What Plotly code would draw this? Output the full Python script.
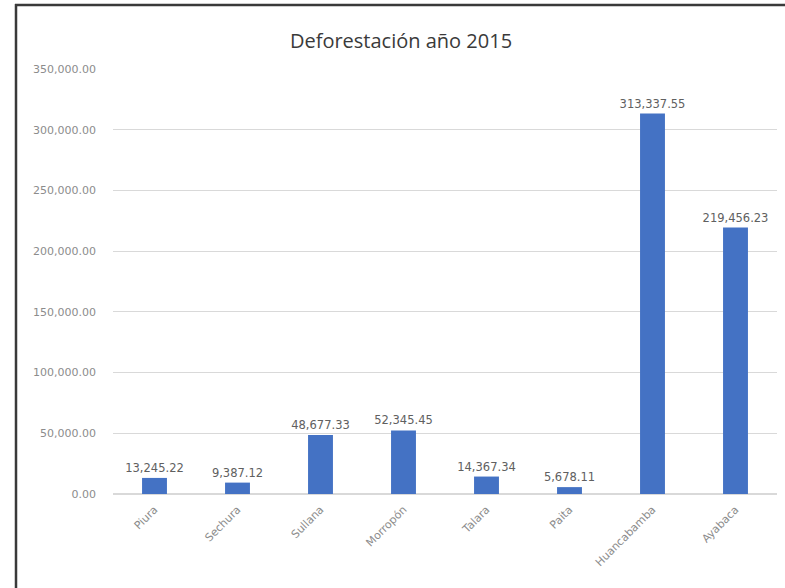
import plotly.graph_objects as go

provincias = ["Piura", "Sechura", "Sullana", "Morropón", "Talara", "Paita", "Huancabamba", "Ayabaca"]
deforestacion = [13245.22, 9387.12, 48677.33, 52345.45, 14367.34, 5678.11, 313337.55, 219456.23]
y_ticks = [0, 50000, 100000, 150000, 200000, 250000, 300000, 350000]

W, H = 785, 588
L, R, T, B = 113, 8, 69, 94
pw, ph = W - L - R, H - T - B

fig = go.Figure(go.Bar(
    x=provincias, y=deforestacion,
    marker=dict(color="#4472c4", line=dict(width=0)),
    width=0.3,
    text=[f"{v:,.2f}" for v in deforestacion],
    textposition="outside",
    constraintext="none",
    textfont=dict(family="DejaVu Sans", size=11.5, color="#606060"),
    cliponaxis=False,
))

def px_x(p):
    return (p - L) / pw

def px_y(p):
    return (H - B - p) / ph

border = "#3a3a3a"
fig.update_layout(
    width=W, height=H,
    margin=dict(l=L, r=R, t=T, b=B),
    paper_bgcolor="white", plot_bgcolor="white",
    title=dict(text="Deforestación año 2015", x=401 / W, xanchor="center",
               y=1 - 41 / H, yanchor="middle",
               font=dict(family="Open Sans", size=20, color="#3a3a3a")),
    showlegend=False,
    bargap=0.7,
    xaxis=dict(tickangle=-45, tickfont=dict(family="DejaVu Sans", size=11, color="#8c8c8c"),
               showline=False, showgrid=False, ticks="", ticklabelstandoff=6),
    yaxis=dict(range=[0, 350000], tickvals=y_ticks, tickformat=",.2f",
               tickfont=dict(family="DejaVu Sans", size=11, color="#8c8c8c"),
               gridcolor="#d9d9d9", gridwidth=1, zeroline=True, zerolinecolor="#d9d9d9",
               showline=False, ticks="", ticklabelstandoff=16),
    shapes=[
        dict(type="line", xref="paper", yref="paper", x0=px_x(16), x1=px_x(16),
             y0=px_y(590), y1=px_y(4), line=dict(color=border, width=2.5)),
        dict(type="line", xref="paper", yref="paper", x0=px_x(15), x1=px_x(790),
             y0=px_y(5), y1=px_y(5), line=dict(color=border, width=2.5)),
    ],
)

fig.write_html("out.html", config={"displayModeBar": False},
               post_script="document.body.style.margin='0';document.body.style.overflow='hidden';")
